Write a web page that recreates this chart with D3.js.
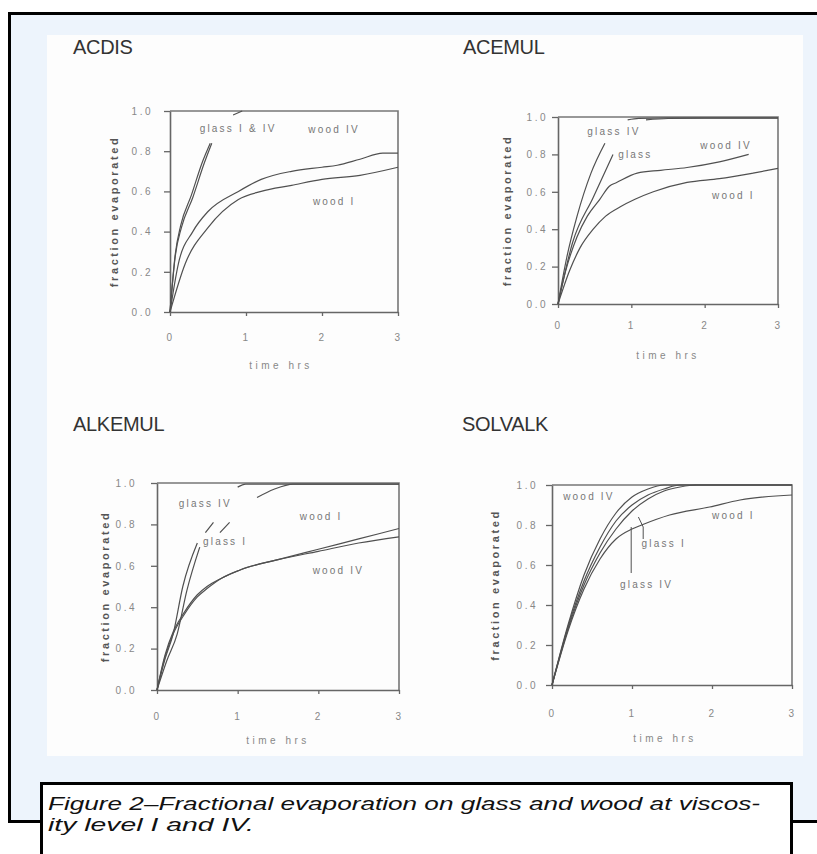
<!DOCTYPE html>
<html>
<head>
<meta charset="utf-8">
<script src="https://cdn.jsdelivr.net/npm/d3@7"></script>
<style>
html, body { margin: 0; padding: 0; background: #fff; overflow: hidden; }
svg { display: block; }
</style>
</head>
<body>
<svg id="fig" width="817" height="854"></svg>
<script>
const panelNames = ['ACDIS', 'ACEMUL', 'ALKEMUL', 'SOLVALK'];
const xTicks = [0, 1, 2, 3];
const yTicks = [0, 0.2, 0.4, 0.6, 0.8, 1.0];
const captionLines = [
  'Figure 2\u2013Fractional evaporation on glass and wood at viscos-',
  'ity level I and IV.'
];

// ACDIS  (null = break in the drawn line, where the label sits)
const acdisGlassIT  = [0, 0.07, 0.15, 0.3, 0.45, 0.55, 0.7, 0.83, 0.95];
const acdisGlassIF  = [0, 0.28, 0.42, 0.57, 0.74, 0.84, null, 0.98, 1.0];
const acdisGlassIVT = [0, 0.07, 0.14, 0.28, 0.43, 0.53];
const acdisGlassIVF = [0, 0.29, 0.43, 0.58, 0.75, 0.84];
const acdisWoodIVT  = [0, 0.11, 0.3, 0.5, 0.9, 1.2, 1.6, 2.0, 2.2, 2.5, 2.8, 3.0];
const acdisWoodIVF  = [0, 0.24, 0.40, 0.50, 0.60, 0.66, 0.70, 0.72, 0.73, 0.76, 0.79, 0.79];
const acdisWoodIT   = [0, 0.2, 0.5, 0.9, 1.2, 1.6, 2.0, 2.5, 3.0];
const acdisWoodIF   = [0, 0.24, 0.42, 0.56, 0.60, 0.63, 0.66, 0.68, 0.72];

// ACEMUL
const acemulGlassIVT = [0, 0.12, 0.26, 0.45, 0.64, 0.8, 0.95, 1.1, 1.5, 2.0, 3.0];
const acemulGlassIVF = [0, 0.25, 0.47, 0.70, 0.86, null, 0.985, 0.993, 0.995, 0.995, 0.995];
const acemulGlassIT  = [0, 0.2, 0.48, 0.75, 1.0, 1.2, 1.5, 2.0, 3.0];
const acemulGlassIF  = [0, 0.33, 0.57, 0.80, null, 0.985, 0.992, 0.994, 0.994];
const acemulWoodIVT  = [0, 0.1, 0.26, 0.4, 0.57, 0.7, 0.8, 1.08, 1.4, 1.76, 2.2, 2.6];
const acemulWoodIVF  = [0, 0.17, 0.36, 0.47, 0.56, 0.63, 0.65, 0.70, 0.715, 0.73, 0.76, 0.80];
const acemulWoodIT   = [0, 0.16, 0.3, 0.48, 0.65, 0.85, 1.05, 1.3, 1.76, 2.2, 2.66, 3.0];
const acemulWoodIF   = [0, 0.18, 0.30, 0.40, 0.47, 0.52, 0.56, 0.60, 0.65, 0.67, 0.70, 0.725];

// ALKEMUL
const alkemulGlassIVT = [0, 0.1, 0.2, 0.32, 0.5, 0.55, 0.6, 0.7, 0.8, 1.0, 1.1, 1.5, 2.35, 3.0];
const alkemulGlassIVF = [0, 0.15, 0.27, 0.50, 0.71, null, 0.76, 0.81, null, 0.98, 0.995, 0.995, 0.995, 0.995];
const alkemulGlassIT  = [0, 0.12, 0.25, 0.37, 0.53, 0.65, 0.78, 0.9, 1.0, 1.24, 1.45, 1.69, 2.3, 3.0];
const alkemulGlassIF  = [0, 0.14, 0.27, 0.48, 0.69, null, 0.76, 0.81, null, 0.93, 0.97, 0.995, 0.995, 0.995];
const alkemulWoodIT   = [0, 0.1, 0.2, 0.33, 0.5, 0.62, 0.8, 1.03, 1.5, 2.0, 2.5, 3.0];
const alkemulWoodIF   = [0, 0.17, 0.28, 0.37, 0.46, 0.50, 0.54, 0.58, 0.63, 0.68, 0.73, 0.78];
const alkemulWoodIVT  = [0, 0.1, 0.2, 0.33, 0.5, 0.62, 0.8, 1.03, 1.5, 2.0, 2.5, 3.0];
const alkemulWoodIVF  = [0, 0.16, 0.27, 0.36, 0.45, 0.49, 0.54, 0.58, 0.63, 0.67, 0.71, 0.74];

// SOLVALK
const solvalkWoodIVT  = [0, 0.2, 0.4, 0.6, 0.8, 1.0, 1.2, 1.4, 1.6, 3.0];
const solvalkWoodIVF  = [0, 0.30, 0.55, 0.73, 0.86, 0.94, 0.98, 1.0, 1.0, 1.0];
const solvalkGlassIVT = [0, 0.2, 0.4, 0.6, 0.8, 1.0, 1.2, 1.4, 1.6, 1.8, 3.0];
const solvalkGlassIVF = [0, 0.29, 0.52, 0.69, 0.82, 0.90, 0.95, 0.98, 1.0, 1.0, 1.0];
const solvalkGlassIT  = [0, 0.2, 0.4, 0.6, 0.8, 1.0, 1.2, 1.4, 1.6, 1.8, 3.0];
const solvalkGlassIF  = [0, 0.28, 0.50, 0.66, 0.78, 0.87, 0.93, 0.97, 0.99, 1.0, 1.0];
const solvalkWoodIT   = [0, 0.2, 0.4, 0.6, 0.8, 1.0, 1.12, 1.47, 1.97, 2.35, 3.0];
const solvalkWoodIF   = [0, 0.27, 0.48, 0.63, 0.73, 0.78, 0.80, 0.85, 0.89, 0.925, 0.95];

const zip = (t, f) => t.map((d, i) => [d, f[i]]);

const panels = [
  { name: panelNames[0], x0: 170, x1: 398, yTop: 111, yBot: 312, titleX: 73, titleY: 54,
    yLabX: 114, yPad: 11, xPad: 18, timeX: 281, timeY: 365,
    series: [zip(acdisGlassIT, acdisGlassIF), zip(acdisGlassIVT, acdisGlassIVF),
             zip(acdisWoodIVT, acdisWoodIVF), zip(acdisWoodIT, acdisWoodIF)],
    labels: [['glass I & IV', 0.39, 0.915], ['wood IV', 1.82, 0.91], ['wood I', 1.88, 0.55]],
    leaders: [] },
  { name: panelNames[1], x0: 558, x1: 778, yTop: 117, yBot: 304, titleX: 463, titleY: 54,
    yLabX: 507, yPad: 4, xPad: 14, timeX: 668, timeY: 355,
    series: [zip(acemulGlassIVT, acemulGlassIVF), zip(acemulGlassIT, acemulGlassIF),
             zip(acemulWoodIVT, acemulWoodIVF), zip(acemulWoodIT, acemulWoodIF)],
    labels: [['glass IV', 0.40, 0.92], ['glass', 0.82, 0.80], ['wood IV', 1.94, 0.85], ['wood I', 2.1, 0.58]],
    leaders: [] },
  { name: panelNames[2], x0: 157, x1: 399, yTop: 483, yBot: 690, titleX: 73, titleY: 431,
    yLabX: 105, yPad: 14, xPad: 19, timeX: 278, timeY: 740,
    series: [zip(alkemulGlassIVT, alkemulGlassIVF), zip(alkemulGlassIT, alkemulGlassIF),
             zip(alkemulWoodIT, alkemulWoodIF), zip(alkemulWoodIVT, alkemulWoodIVF)],
    labels: [['glass IV', 0.27, 0.90], ['glass I', 0.57, 0.715], ['wood I', 1.77, 0.84], ['wood IV', 1.93, 0.575]],
    leaders: [] },
  { name: panelNames[3], x0: 552, x1: 792, yTop: 485, yBot: 685, titleX: 462, titleY: 431,
    yLabX: 495, yPad: 8, xPad: 21, timeX: 665, timeY: 738,
    series: [zip(solvalkWoodIVT, solvalkWoodIVF), zip(solvalkGlassIVT, solvalkGlassIVF),
             zip(solvalkGlassIT, solvalkGlassIF), zip(solvalkWoodIT, solvalkWoodIF)],
    labels: [['wood IV', 0.14, 0.945], ['wood I', 2.0, 0.85], ['glass I', 1.12, 0.71], ['glass IV', 0.85, 0.505]],
    leaders: [[[0.99, 0.56], [0.99, 0.79]], [[1.14, 0.73], [1.14, 0.79], [1.08, 0.84]]] }
];

const svg = d3.select('#fig');

// outer frame (right side runs off the page), inner white sheet
svg.append('rect')
  .attr('x', 9.5).attr('y', 13.5).attr('width', 808).attr('height', 808)
  .attr('fill', '#edf4fc');
svg.append('path')
  .attr('d', 'M817,13.5H9.5V821.5H817')
  .attr('fill', 'none').attr('stroke', '#000').attr('stroke-width', 3);
svg.append('rect')
  .attr('x', 47).attr('y', 35).attr('width', 756).attr('height', 721)
  .attr('fill', '#fdfdfd');

const lineCol = '#505050';

panels.forEach(p => {
  const x = d3.scaleLinear().domain([0, 3]).range([p.x0, p.x1]);
  const y = d3.scaleLinear().domain([0, 1]).range([p.yBot, p.yTop]);
  const g = svg.append('g');

  g.append('text')
    .attr('x', p.titleX).attr('y', p.titleY)
    .attr('font-family', 'Liberation Sans, Arial, sans-serif')
    .attr('font-size', 20).attr('fill', '#333')
    .style('letter-spacing', '-0.3px')
    .text(p.name);

  // box (top + right)
  g.append('path')
    .attr('d', `M${p.x0},${p.yTop}H${p.x1}V${p.yBot}`)
    .attr('fill', 'none').attr('stroke', '#777').attr('stroke-width', 1.6);

  const yAxis = g.append('g')
    .attr('transform', `translate(${p.x0},0)`)
    .call(d3.axisLeft(y).tickValues(yTicks).tickFormat(d3.format('.1f'))
      .tickSize(6).tickSizeOuter(0).tickPadding(p.yPad));
  const xAxis = g.append('g')
    .attr('transform', `translate(0,${p.yBot})`)
    .call(d3.axisBottom(x).tickValues(xTicks).tickFormat(d3.format('d'))
      .tickSize(4).tickSizeOuter(0).tickPadding(p.xPad));

  [yAxis, xAxis].forEach(a => {
    a.select('.domain').attr('stroke', '#666').attr('stroke-width', 1.6);
    a.selectAll('.tick line').attr('stroke', '#666').attr('stroke-width', 1.3);
    a.selectAll('.tick text')
      .attr('font-family', 'Liberation Sans, Arial, sans-serif')
      .attr('font-size', 10).attr('fill', '#888')
      .style('letter-spacing', '2.5px');
  });

  g.append('text')
    .attr('transform', `translate(${p.yLabX},${(p.yTop + p.yBot) / 2}) rotate(-90)`)
    .attr('text-anchor', 'middle').attr('dominant-baseline', 'central')
    .attr('font-family', 'Liberation Sans, Arial, sans-serif')
    .attr('font-size', 11).attr('font-weight', 'bold').attr('fill', '#555')
    .style('letter-spacing', '2.6px')
    .text('fraction evaporated');

  g.append('text')
    .attr('x', p.timeX).attr('y', p.timeY)
    .attr('text-anchor', 'middle').attr('dominant-baseline', 'central')
    .attr('font-family', 'Liberation Sans, Arial, sans-serif')
    .attr('font-size', 10).attr('fill', '#888')
    .style('letter-spacing', '3.5px')
    .text('time hrs');

  const line = d3.line()
    .defined(d => d[1] != null)
    .x(d => x(d[0])).y(d => y(d[1]))
    .curve(d3.curveMonotoneX);

  g.selectAll('path.curve').data(p.series).join('path')
    .attr('class', 'curve')
    .attr('d', line)
    .attr('fill', 'none').attr('stroke', lineCol).attr('stroke-width', 1.2);

  g.selectAll('path.leader').data(p.leaders).join('path')
    .attr('class', 'leader')
    .attr('d', d3.line().x(d => x(d[0])).y(d => y(d[1])))
    .attr('fill', 'none').attr('stroke', lineCol).attr('stroke-width', 1);

  g.selectAll('text.lab').data(p.labels).join('text')
    .attr('class', 'lab')
    .attr('x', d => x(d[1])).attr('y', d => y(d[2]))
    .attr('dominant-baseline', 'central')
    .attr('font-family', 'Liberation Sans, Arial, sans-serif')
    .attr('font-size', 10).attr('fill', '#777')
    .style('letter-spacing', '2.2px')
    .text(d => d[0]);
});

// caption box
svg.append('rect')
  .attr('x', 41.5).attr('y', 783.5).attr('width', 750).attr('height', 100)
  .attr('fill', '#fff').attr('stroke', '#000').attr('stroke-width', 3);

const capWidths = [712, 206];
svg.selectAll('text.cap').data(captionLines).join('text')
  .attr('class', 'cap')
  .attr('x', 48).attr('y', (d, i) => 810 + i * 21)
  .attr('font-family', 'Liberation Sans, Arial, sans-serif')
  .attr('font-style', 'italic').attr('font-size', 18).attr('fill', '#111')
  .attr('textLength', (d, i) => capWidths[i])
  .attr('lengthAdjust', 'spacingAndGlyphs')
  .text(d => d);
</script>
</body>
</html>
